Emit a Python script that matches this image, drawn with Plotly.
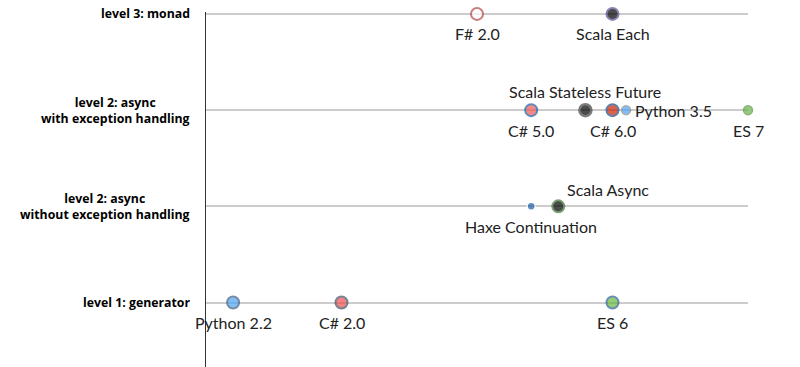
import plotly.graph_objects as go

# Row labels (y categories, bottom to top)
level_labels = [
    "level 1: generator",
    "level 2: async<br>without exception handling",
    "level 2: async<br>with exception handling",
    "level 3: monad",
]
level_vals = [0, 1, 2, 3]

# Points
names = ["Python 2.2", "C# 2.0", "ES 6",
         "Haxe Continuation", "Scala Async",
         "C# 5.0", "Scala Stateless Future", "C# 6.0", "Python 3.5", "ES 7",
         "F# 2.0", "Scala Each"]
years = [2001, 2005, 2015,
         2012, 2013,
         2012, 2014, 2015, 2015.5, 2020,
         2010, 2015]
levels = [0, 0, 0,
          1, 1,
          2, 2, 2, 2, 2,
          3, 3]

# label placement styles: "b" below, "t" above, "tr" above-right, "r" right
label_place = ["b", "b", "b",
               "b", "tr",
               "b", "t", "b", "r", "b",
               "b", "b"]
fill_colors = ["#4aa3f5", "#ee5050", "#66b83a",
               "#1f5fa5", "#000000",
               "#f05a55", "#000000", "#cc2200", "#4da3f5", "#6ab04a",
               "#ffffff", "#000000"]
line_colors = ["#3e5e80", "#3a5068", "#2b5f95",
               "#ffffff", "#3f7a35",
               "#1a5aa0", "#444444", "#1a4a8a", "#8a8a8a", "#58963e",
               "#b04a4a", "#5a5094"]
sizes = [12, 12, 12,
         8, 12,
         12, 12, 12, 9, 9,
         12, 12]
line_widths = [2, 2, 2,
               1.5, 2,
               2, 2.5, 2, 1.5, 1.5,
               2, 2]

fig = go.Figure()
fig.add_trace(go.Scatter(
    x=years, y=levels, mode="markers", text=names,
    marker=dict(color=fill_colors, size=sizes,
                line=dict(color=line_colors, width=line_widths)),
    cliponaxis=False, hoverinfo="text", showlegend=False,
))

place_style = {
    "b": dict(xanchor="center", yanchor="middle", xshift=0, yshift=-20),
    "t": dict(xanchor="center", yanchor="middle", xshift=0, yshift=19),
    "tr": dict(xanchor="left", yanchor="middle", xshift=7, yshift=17),
    "r": dict(xanchor="left", yanchor="middle", xshift=7, yshift=0),
}
for n, xv, yv, p in zip(names, years, levels, label_place):
    fig.add_annotation(
        x=xv, y=yv, xref="x", yref="y", text=n, showarrow=False,
        font=dict(family="Lato", size=16, color="#222222"),
        **place_style[p],
    )

for v, lab in zip(level_vals, level_labels):
    fig.add_annotation(
        xref="paper", x=0, xanchor="right", xshift=-14,
        yref="y", y=v, yanchor="middle",
        text=lab, showarrow=False, align="center",
        font=dict(family="Open Sans", size=12.3, color="#000000", weight="bold"),
    )

fig.update_layout(
    width=800, height=367,
    margin=dict(l=206, r=52, t=12, b=0),
    paper_bgcolor="white", plot_bgcolor="white",
    xaxis=dict(range=[2000, 2020], visible=False, showgrid=False, zeroline=False),
    yaxis=dict(range=[-0.67, 3.02], tickvals=level_vals, showticklabels=False,
               showgrid=True, gridcolor="#cccccc", gridwidth=2, zeroline=False,
               showline=True, linecolor="#333333", linewidth=1.3, ticks=""),
)

fig.write_html("out.html", config={"displayModeBar": False},
               post_script="document.body.style.margin='0';")
